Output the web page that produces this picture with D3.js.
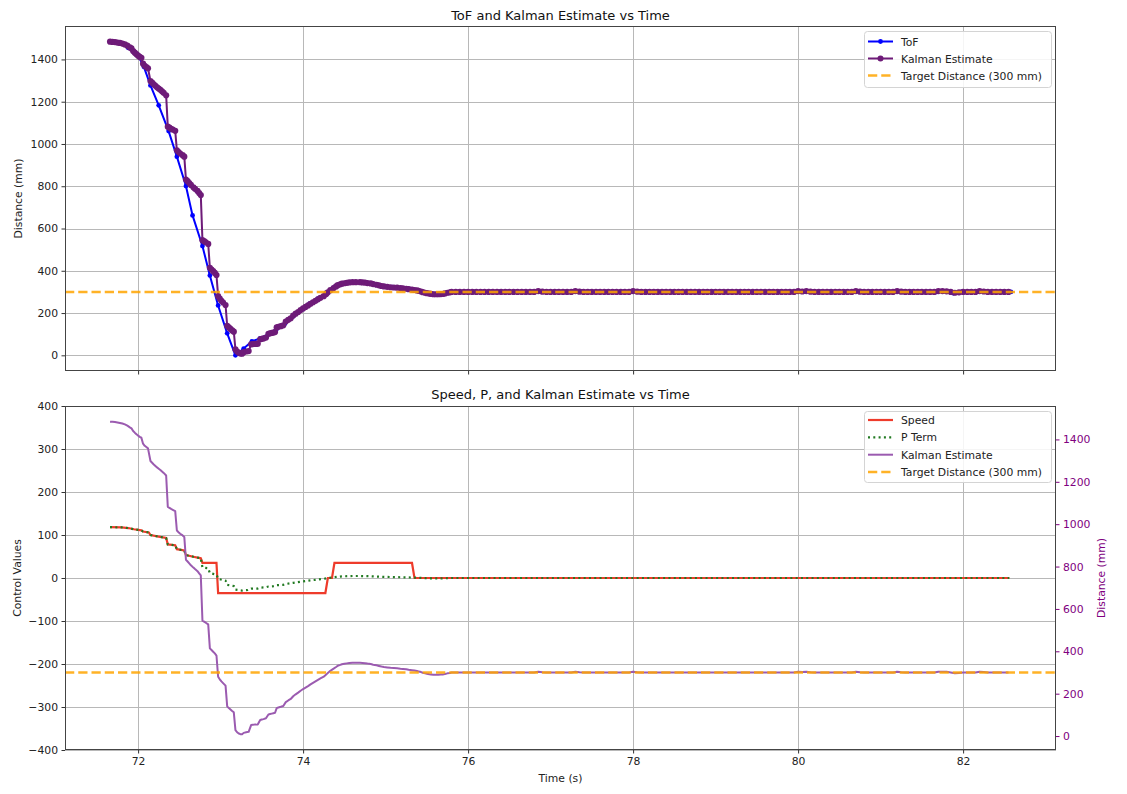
<!DOCTYPE html>
<html><head><meta charset="utf-8">
<script src="https://cdn.jsdelivr.net/npm/d3@7"></script>
<style>
body{margin:0;background:#fff;}
text{font-family:"DejaVu Sans",sans-serif;}
</style></head><body>
<svg id="chart" width="1127" height="794"></svg>
<script>
// ---------------- DATA ----------------
// ToF readings (transient part, explicit times)
const tofTimeTransient = [71.66,71.78,71.88,72.00,72.07,72.15,72.25,72.37,72.47,72.58,72.66,72.78,72.87,72.97,73.08,73.18,73.28,73.38,73.48,73.58,73.68,73.78,73.88,73.98,74.08,74.18,74.28,74.38,74.48,74.58,74.68,74.78,74.88,74.98,75.08,75.18,75.28,75.38,75.48,75.58,75.68,75.78];
const tofValueTransient = [1484,1476,1455,1418,1365,1277,1183,1061,940,801,662,517,378,236,104,0,32,66,80,100,126,150,185,215,245,268,296,322,340,346,346,342,334,326,322,318,314,306,298,290,290,299];
// ToF readings (steady part, sampled every 0.1 s from 75.88 s)
const tofSteadyStart = 75.88, tofSteadyStep = 0.1;
const tofSteadyValues = [
 300,300,300,300,300,300,300,300,300,300,
 303,300,300,300,303,300,300,300,300,300,
 300,303,300,300,300,300,300,300,300,300,
 300,300,300,300,300,300,300,300,300,300,
 300,303,302,300,300,300,300,300,303,300,
 300,300,300,303,300,300,300,300,300,303,
 294,300,300,303,300,300,300,300];

// Kalman estimate (transient part, [time, value] pairs)
const kalTransient = [
 [71.66,1484],[71.69,1483],[71.72,1482],[71.75,1480],[71.78,1478],[71.81,1475],[71.84,1471],[71.87,1465],[71.90,1457],[71.92,1452],
 [71.94,1440],[71.96,1432],[71.98,1425],[72.00,1418],[72.02,1412],[72.04,1408],[72.06,1380],[72.08,1370],[72.10,1364],[72.12,1358],
 [72.15,1298],[72.17,1290],[72.19,1282],[72.21,1275],[72.23,1268],[72.25,1262],[72.27,1256],[72.29,1249],[72.31,1242],[72.34,1230],
 [72.36,1082],[72.38,1077],[72.40,1072],[72.42,1068],[72.45,1062],[72.47,970],[72.49,962],[72.51,955],[72.54,947],[72.56,940],
 [72.58,832],[72.60,824],[72.62,815],[72.64,806],[72.67,795],[72.69,788],[72.72,778],[72.74,768],[72.76,758],
 [72.78,545],[72.80,540],[72.82,535],[72.85,527],[72.87,414],[72.89,406],[72.91,398],[72.93,390],[72.95,380],
 [72.97,280],[72.99,268],[73.01,258],[73.03,250],[73.06,238],[73.08,140],[73.10,132],[73.12,125],[73.14,118],[73.16,112],
 [73.18,28],[73.20,18],[73.22,12],[73.24,9],[73.26,8],[73.28,15],[73.31,18],[73.34,20],
 [73.37,52],[73.39,53],[73.41,54],[73.43,54],[73.45,55],[73.48,76],[73.50,78],[73.52,80],[73.55,84],
 [73.58,102],[73.60,104],[73.62,106],[73.64,108],[73.66,110],[73.68,132],[73.70,135],[73.73,138],[73.76,142],
 [73.79,160],[73.82,168],[73.85,175],[73.88,188],[73.91,197],[73.94,205],[73.97,214],[74.00,222],[74.03,229],[74.06,236],
 [74.09,244],[74.12,251],[74.15,258],[74.18,265],[74.21,272],[74.25,280],[74.28,290],[74.30,298],[74.33,308],[74.37,318],
 [74.40,326],[74.42,332],[74.45,336],[74.47,339],[74.50,341],[74.53,343],[74.56,345],[74.60,346],[74.64,346],[74.69,346],
 [74.72,345],[74.75,344],[74.78,342],[74.82,340],[74.85,337],[74.89,334],[74.92,331],[74.95,328],[74.98,326],[75.02,324],
 [75.06,322],[75.10,321],[75.14,320],[75.18,318],[75.21,317],[75.25,315],[75.28,313],[75.32,311],[75.35,309],[75.38,307],
 [75.40,305],[75.43,302],[75.45,299],[75.48,296],[75.50,294],[75.53,292],[75.55,291],[75.58,289],[75.61,289],[75.64,289],
 [75.67,290],[75.70,291],[75.72,293],[75.75,296],[75.78,298],[75.80,300]];
// Kalman estimate (steady part, sampled every 0.05 s from 75.85 s)
const kalSteadyStart = 75.85, kalSteadyStep = 0.05;
const kalSteadyValues = [
 300,300,300,300,300,300,300,300,300,300,300,300,300,300,300,300,300,300,300,300,
 304,301,300,300,300,300,300,300,300,304,301,300,300,300,300,300,300,300,300,300,
 300,300,300,304,301,300,300,300,300,300,300,300,300,300,300,300,300,300,300,300,
 300,300,300,300,300,300,300,300,300,300,300,300,300,300,300,300,300,300,300,300,
 300,300,300,304,302,304,301,300,300,300,300,300,300,300,300,300,300,304,301,300,
 300,300,300,300,300,300,300,304,301,300,300,300,300,300,300,300,300,304,304,303,
 300,296,298,300,300,300,300,304,302,300,300,300,300,300,300];

// P term
const pTime = [71.66,71.80,71.88,71.95,72.04,72.06,72.13,72.15,72.25,72.34,72.36,72.45,72.47,72.56,72.58,72.67,72.76,72.78,72.85,72.87,72.95,72.97,73.06,73.08,73.16,73.18,73.26,73.33,73.37,73.45,73.48,73.55,73.58,73.66,73.68,73.76,73.79,73.88,74.00,74.12,74.25,74.37,74.47,74.60,74.69,74.82,74.95,75.10,75.25,75.38,75.48,75.58,75.70,75.80,82.56];
const pValue = [118.4,117.6,116.2,113.3,110.8,108,105.8,99.8,96.2,93,78.2,76.2,67,64,53.2,49.5,45.8,24.5,22.7,11.4,8,-2,-6.2,-16,-18.8,-27.2,-29.2,-28,-24.8,-24.5,-22.4,-21.6,-19.8,-19,-16.8,-15.8,-14,-11.2,-7.8,-4.9,-2,1.8,3.9,4.6,4.6,4,2.8,2.1,1.5,0.7,-0.4,-1.1,-0.9,0,0];

// Speed
const speedTime = [71.66,71.80,71.88,71.95,72.04,72.06,72.13,72.15,72.25,72.34,72.36,72.45,72.47,72.56,72.58,72.67,72.76,72.78,72.95,72.97,74.27,74.30,74.35,74.38,75.32,75.35,82.56];
const speedValue = [118.4,117.6,116.2,113.3,110.8,108,105.8,99.8,96.2,93,78.2,76.2,67,64,53.2,49.5,45.8,35,35,-35,-35,0,0,35,35,0,0];

const targetDistance = 300;

const xTicks = [72,74,76,78,80,82];
const distTicks = [0,200,400,600,800,1000,1200,1400];
const controlTicks = [-400,-300,-200,-100,0,100,200,300,400];
const controlDomain = [-400,400];

const topTitle = "ToF and Kalman Estimate vs Time";
const botTitle = "Speed, P, and Kalman Estimate vs Time";
const topLegend = ["ToF","Kalman Estimate","Target Distance (300 mm)"];
const botLegend = ["Speed","P Term","Kalman Estimate","Target Distance (300 mm)"];

// ---------------- BUILD SERIES ----------------
const tof = tofTimeTransient.map((t,i)=>({t, v: tofValueTransient[i]}))
  .concat(tofSteadyValues.map((v,i)=>({t: tofSteadyStart + i*tofSteadyStep, v})));
const kal = kalTransient.map(([t,v])=>({t, v}))
  .concat(kalSteadyValues.map((v,i)=>({t: kalSteadyStart + i*kalSteadyStep, v})));
const pterm = pTime.map((t,i)=>({t, v: pValue[i]}));
const speed = speedTime.map((t,i)=>({t, v: speedValue[i]}));

// ---------------- LAYOUT ----------------
const L = 65, R = 1056;
const topT = 26, topB = 371, botT = 406, botB = 750;
const FS = 10.8;
const C = {
  tof: "#0000ff", kalTop: "#6e1b78", kalBot: "#9b5bb0",
  target: "#ffa500", speed: "#ee3b2b", p: "#227a22", grid: "#b8b8b8", purple: "#800080"
};

function pad(ext){ const d = (ext[1]-ext[0])*0.05; return [ext[0]-d, ext[1]+d]; }

const allT = tof.map(d=>d.t).concat(kal.map(d=>d.t));
const x = d3.scaleLinear().domain(pad(d3.extent(allT))).range([L, R]);
const yTop = d3.scaleLinear()
  .domain(pad(d3.extent(tof.map(d=>d.v).concat(kal.map(d=>d.v), [targetDistance]))))
  .range([topB, topT]);
const yCtl = d3.scaleLinear().domain(controlDomain).range([botB, botT]);
const yRight = d3.scaleLinear()
  .domain(pad(d3.extent(kal.map(d=>d.v).concat([targetDistance]))))
  .range([botB, botT]);

const svg = d3.select("#chart");
svg.append("rect").attr("width",1127).attr("height",794).attr("fill","#fff");

const defs = svg.append("defs");
defs.append("clipPath").attr("id","clipTop").append("rect").attr("x",L).attr("y",topT).attr("width",R-L).attr("height",topB-topT);
defs.append("clipPath").attr("id","clipBot").append("rect").attr("x",L).attr("y",botT).attr("width",R-L).attr("height",botB-botT);

// ---------------- GRIDS ----------------
function vgrid(y0,y1){
  svg.append("g").selectAll("line").data(xTicks).join("line")
    .attr("x1",d=>Math.round(x(d))+0.5).attr("x2",d=>Math.round(x(d))+0.5)
    .attr("y1",y0).attr("y2",y1).attr("stroke",C.grid).attr("stroke-width",1);
}
function hgrid(scale,ticks){
  svg.append("g").selectAll("line").data(ticks).join("line")
    .attr("y1",d=>Math.round(scale(d))+0.5).attr("y2",d=>Math.round(scale(d))+0.5)
    .attr("x1",L).attr("x2",R).attr("stroke",C.grid).attr("stroke-width",1);
}
vgrid(topT, topB); hgrid(yTop, distTicks);
vgrid(botT, botB); hgrid(yCtl, controlTicks);

// ---------------- TOP CHART ----------------
const gTop = svg.append("g").attr("clip-path","url(#clipTop)");
const lineTop = d3.line().x(d=>x(d.t)).y(d=>yTop(d.v));
gTop.append("path").datum(tof).attr("d",lineTop).attr("fill","none").attr("stroke",C.tof).attr("stroke-width",2).attr("stroke-linejoin","round");
gTop.append("g").selectAll("circle").data(tof).join("circle")
  .attr("cx",d=>x(d.t)).attr("cy",d=>yTop(d.v)).attr("r",2.4).attr("fill",C.tof);
gTop.append("path").datum(kal).attr("d",lineTop).attr("fill","none").attr("stroke",C.kalTop).attr("stroke-width",2).attr("stroke-linejoin","round");
gTop.append("g").selectAll("circle").data(kal).join("circle")
  .attr("cx",d=>x(d.t)).attr("cy",d=>yTop(d.v)).attr("r",3.1).attr("fill",C.kalTop);
gTop.append("line").attr("x1",L).attr("x2",R)
  .attr("y1",yTop(targetDistance)).attr("y2",yTop(targetDistance))
  .attr("stroke",C.target).attr("stroke-opacity",0.85).attr("stroke-width",2.5).attr("stroke-dasharray","9.25,4");

// ---------------- BOTTOM CHART ----------------
const gBot = svg.append("g").attr("clip-path","url(#clipBot)");
const lineCtl = d3.line().x(d=>x(d.t)).y(d=>yCtl(d.v));
const lineRight = d3.line().x(d=>x(d.t)).y(d=>yRight(d.v));
gBot.append("path").datum(speed).attr("d",lineCtl).attr("fill","none").attr("stroke",C.speed).attr("stroke-width",2.2);
gBot.append("path").datum(pterm).attr("d",lineCtl).attr("fill","none").attr("stroke",C.p).attr("stroke-width",2.2).attr("stroke-dasharray","2,3.3");
gBot.append("path").datum(kal).attr("d",lineRight).attr("fill","none").attr("stroke",C.kalBot).attr("stroke-width",2).attr("stroke-linejoin","round");
gBot.append("line").attr("x1",L).attr("x2",R)
  .attr("y1",yRight(targetDistance)).attr("y2",yRight(targetDistance))
  .attr("stroke",C.target).attr("stroke-opacity",0.85).attr("stroke-width",2.5).attr("stroke-dasharray","9.25,4");

// ---------------- AXES ----------------
function styleAxis(g, color){
  g.select(".domain").remove();
  g.selectAll(".tick line").attr("stroke", color || "#333");
  g.selectAll(".tick text").attr("fill", color || "#222").attr("font-size",FS).attr("font-family","DejaVu Sans");
}
styleAxis(svg.append("g").attr("transform",`translate(0,${topB})`)
  .call(d3.axisBottom(x).tickValues(xTicks).tickSize(3.5).tickFormat("")));
styleAxis(svg.append("g").attr("transform",`translate(${L},0)`)
  .call(d3.axisLeft(yTop).tickValues(distTicks).tickSize(3.5).tickPadding(3.5).tickFormat(d3.format("d"))));
styleAxis(svg.append("g").attr("transform",`translate(0,${botB})`)
  .call(d3.axisBottom(x).tickValues(xTicks).tickSize(3.5).tickPadding(3.5).tickFormat(d3.format("d"))));
styleAxis(svg.append("g").attr("transform",`translate(${L},0)`)
  .call(d3.axisLeft(yCtl).tickValues(controlTicks).tickSize(3.5).tickPadding(3.5).tickFormat(d=>d<0?"\u2212"+Math.abs(d):d)));
styleAxis(svg.append("g").attr("transform",`translate(${R},0)`)
  .call(d3.axisRight(yRight).tickValues(distTicks).tickSize(3.5).tickPadding(3.5).tickFormat(d3.format("d"))), C.purple);
svg.selectAll(".tick line").attr("stroke-width",1);

// frames
[[topT,topB],[botT,botB]].forEach(([a,b])=>{
  svg.append("rect").attr("x",L+0.5).attr("y",a+0.5).attr("width",R-L-1).attr("height",b-a-1)
    .attr("fill","none").attr("stroke","#444").attr("stroke-width",1);
});

// ---------------- TEXT ----------------
svg.append("text").attr("x",(L+R)/2).attr("y",20).attr("text-anchor","middle").attr("font-size",13).attr("fill","#111").text(topTitle);
svg.append("text").attr("x",(L+R)/2).attr("y",399).attr("text-anchor","middle").attr("font-size",13).attr("fill","#111").text(botTitle);
svg.append("text").attr("transform",`translate(22,${(topT+topB)/2}) rotate(-90)`).attr("text-anchor","middle").attr("font-size",FS).attr("fill","#222").text("Distance (mm)");
svg.append("text").attr("transform",`translate(21,${(botT+botB)/2}) rotate(-90)`).attr("text-anchor","middle").attr("font-size",FS).attr("fill","#222").text("Control Values");
svg.append("text").attr("transform",`translate(1105,${(botT+botB)/2}) rotate(-90)`).attr("text-anchor","middle").attr("font-size",FS).attr("fill",C.purple).text("Distance (mm)");
svg.append("text").attr("x",(L+R)/2).attr("y",782).attr("text-anchor","middle").attr("font-size",FS).attr("fill","#222").text("Time (s)");

// ---------------- LEGENDS ----------------
function legend(x0, y0, w, h, rows, items){
  const g = svg.append("g");
  g.append("rect").attr("x",x0+0.5).attr("y",y0+0.5).attr("width",w).attr("height",h).attr("rx",3)
    .attr("fill","#fff").attr("fill-opacity",0.85).attr("stroke","#d4d4d4");
  items.forEach((it,i)=>{
    const cy = rows[i];
    const ln = g.append("line").attr("x1",x0+4).attr("x2",x0+29).attr("y1",cy).attr("y2",cy)
      .attr("stroke",it.color).attr("stroke-width",it.sw || 2);
    if(it.dash) ln.attr("stroke-dasharray",it.dash);
    if(it.opacity) ln.attr("stroke-opacity",it.opacity);
    if(it.marker) g.append("circle").attr("cx",x0+16.5).attr("cy",cy).attr("r",it.marker).attr("fill",it.color);
    g.append("text").attr("x",x0+37).attr("y",cy+4).attr("font-size",FS).attr("fill","#222").text(it.label);
  });
}
legend(864, 31, 187, 56, [41.5,58.5,75.5], [
  {label: topLegend[0], color: C.tof, marker: 2.4},
  {label: topLegend[1], color: C.kalTop, marker: 3},
  {label: topLegend[2], color: C.target, dash: "9.25,4", sw: 2.5, opacity: 0.85}
]);
legend(864, 411, 187, 71, [420,437.3,454.7,472], [
  {label: botLegend[0], color: C.speed, sw: 2.2},
  {label: botLegend[1], color: C.p, dash: "2,3.3", sw: 2.2},
  {label: botLegend[2], color: C.kalBot},
  {label: botLegend[3], color: C.target, dash: "9.25,4", sw: 2.5, opacity: 0.85}
]);
</script>
</body></html>
